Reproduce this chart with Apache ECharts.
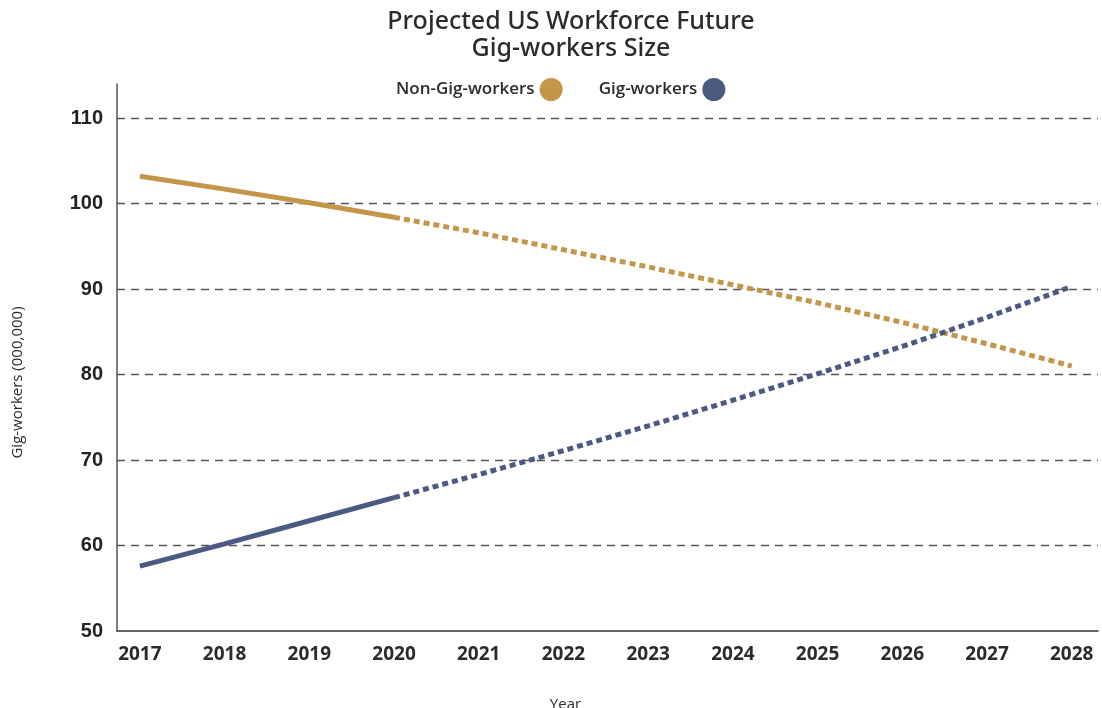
<!DOCTYPE html>
<html>
<head>
<meta charset="utf-8">
<script src="https://cdn.jsdelivr.net/npm/echarts@6/dist/echarts.min.js"></script>
<style>
	html, body { margin: 0; padding: 0; background: #fff; }
	#main { width: 1102px; height: 708px; }
</style>
</head>
<body>
<div id="main"></div>
<script>
// actual years (solid) and projected years (dotted)
var allYears = [2017, 2018, 2019, 2020, 2021, 2022, 2023, 2024, 2025, 2026, 2027, 2028];
var actualYears = [2017, 2018, 2019, 2020];
var projYears = [2020, 2021, 2022, 2023, 2024, 2025, 2026, 2027, 2028];

var nonGigActual = [103.2, 101.7, 100.1, 98.4];
var nonGigProj = [98.4, 96.6, 94.6, 92.6, 90.5, 88.4, 86.1, 83.6, 81.0];

var gigActual = [57.6, 60.2, 62.9, 65.6];
var gigProj = [65.6, 68.3, 71.1, 74.0, 77.0, 80.1, 83.3, 86.7, 90.3];

var yTicks = [50, 60, 70, 80, 90, 100, 110];

var cGold = "#c4964a",
	cNavy = "#4b5a80";

function pairs(xs, ys) {
	return xs.map(function(x, i) { return [x, ys[i]]; });
}

var chart = echarts.init(document.getElementById("main"), null, { renderer: "canvas" });

var opt = {
	animation: false,
	title: {
		text: "Projected US Workforce Future\nGig-workers Size",
		left: 566,
		top: 3,
		textAlign: "center",
		textStyle: {
			fontFamily: "Noto Sans",
			fontWeight: 500,
			fontSize: 25,
			lineHeight: 27,
			color: "#2b2b2b"
		}
	},
	legend: {
		top: 73,
		left: 391,
		itemGap: 36,
		itemWidth: 23,
		itemHeight: 23,
		align: "right",
		icon: "circle",
		data: ["Non-Gig-workers", "Gig-workers"],
		textStyle: {
			fontFamily: "Open Sans",
			fontWeight: 600,
			fontSize: 17,
			color: "#2b2b2b"
		}
	},
	grid: {
		left: 117,
		right: 4,
		top: 84,
		bottom: 77,
		outerBoundsMode: "none",
		containLabel: false
	},
	xAxis: {
		type: "value",
		min: 2016.73,
		max: 2028.31,
		name: "Year",
		nameLocation: "middle",
		nameGap: 66,
		nameTextStyle: {
			fontFamily: "Open Sans",
			fontSize: 15,
			color: "#2b2b2b",
			padding: [0, 84, 0, 0]
		},
		axisLine: { lineStyle: { color: "#333", width: 1.5 } },
		axisTick: { show: false },
		splitLine: { show: false },
		axisLabel: {
			customValues: allYears,
			margin: 14,
			fontFamily: "Open Sans",
			fontWeight: "bold",
			fontSize: 19,
			color: "#2b2b2b",
			formatter: function(v) {
				return String(v);
			}
		}
	},
	yAxis: {
		type: "value",
		min: 50,
		max: 114,
		interval: 10,
		name: "Gig-workers (000,000)",
		nameLocation: "middle",
		nameGap: 92,
		nameTextStyle: {
			fontFamily: "Open Sans",
			fontSize: 15,
			color: "#2b2b2b",
			padding: [0, 50, 0, 0]
		},
		axisLine: { show: true, lineStyle: { color: "#555", width: 1.5 } },
		axisTick: { show: false },
		splitLine: {
			show: true,
			showMinLine: false,
			showMaxLine: false,
			lineStyle: { color: "#555", type: [8, 6], width: 1.3 }
		},
		axisLabel: {
			margin: 14,
			fontFamily: "Liberation Sans",
			fontWeight: "bold",
			fontSize: 20,
			color: "#222",
			showMaxLabel: false,
			formatter: function(v) {
				return yTicks.indexOf(v) >= 0 ? String(v) : "";
			}
		}
	},
	series: [
		{
			name: "Non-Gig-workers",
			type: "line",
			color: cGold,
			showSymbol: false,
			lineStyle: { width: 5, color: cGold, cap: "butt" },
			data: pairs(actualYears, nonGigActual)
		},
		{
			name: "Non-Gig-workers",
			type: "line",
			color: cGold,
			showSymbol: false,
			lineStyle: { width: 5, color: cGold, type: [6, 4] },
			data: pairs(projYears, nonGigProj)
		},
		{
			name: "Gig-workers",
			type: "line",
			color: cNavy,
			showSymbol: false,
			lineStyle: { width: 5, color: cNavy, cap: "butt" },
			data: pairs(actualYears, gigActual)
		},
		{
			name: "Gig-workers",
			type: "line",
			color: cNavy,
			showSymbol: false,
			lineStyle: { width: 5, color: cNavy, type: [6, 4] },
			data: pairs(projYears, gigProj)
		}
	]
};

chart.setOption(opt);
</script>
</body>
</html>
